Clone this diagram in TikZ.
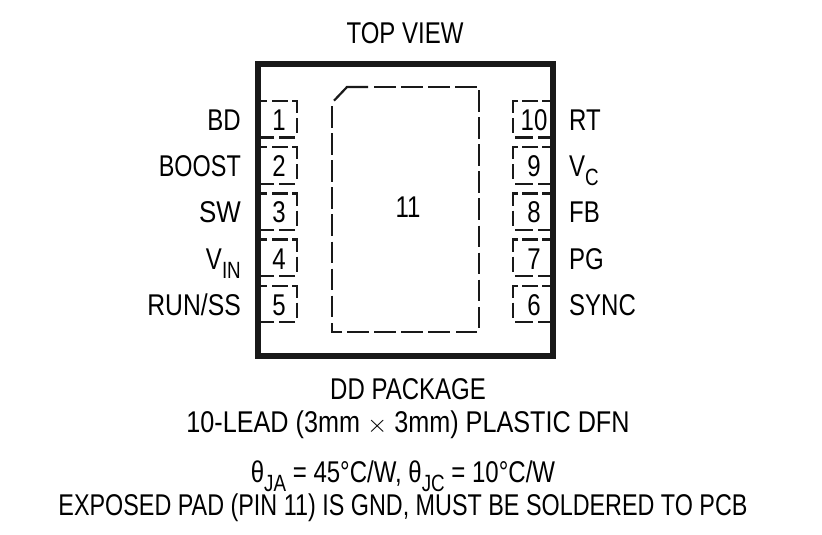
\documentclass[tikz,border=0pt]{standalone}
\usepackage{fontspec}
\setmainfont[FakeStretch=0.80]{Liberation Sans}
\newcommand{\lowsub}[1]{\smash{\raisebox{-0.3em}{\fontsize{23.5}{23.5}\selectfont #1}}}
\tikzset{
  txt/.style={inner sep=0pt,font=\fontsize{30}{30}\selectfont,text=black},
  lab/.style={txt,anchor=base east},
  rab/.style={txt,anchor=base west},
  num/.style={txt,anchor=base},
  case/.style={draw=black!90,line width=6.2pt,miter limit=10},
  padline/.style={draw=black!90,line width=2.2pt},
  dashline/.style={padline,dash pattern=on 21.5pt off 5.6pt},
}
\begin{document}
\begin{tikzpicture}[x=1pt,y=-1pt]
\useasboundingbox (0,0) rectangle (822,535);
\fill[white] (0,0) rectangle (822,535);
\draw[case] (257.6,63.8) rectangle (553.3,356.2);
% exposed pad
\draw[padline] (334,100.7) -- (347,87) -- (368,87);
\draw[dashline] (374,87) -- (478,87);
\draw[dashline] (479,90) -- (479,329);
\draw[dashline] (477,332.3) -- (347,332.3);
\draw[dashline] (332,106) -- (332,318);
\draw[padline] (342,332.3) -- (332,332.3) -- (332,323);
% pin outlines
\foreach \t in {101,147.2,193.5,239.5,285.7}{
  \draw[padline] (260,\t)--(267,\t) (272,\t)--(288,\t) (292,\t)--(297,\t)--(297,\t+12)
    (297,\t+17)--(297,\t+32) (295,\t+36.5)--(279,\t+36.5) (274,\t+36.5)--(260,\t+36.5);
  \draw[padline] (550,\t)--(542,\t) (538,\t)--(522,\t) (518,\t)--(513,\t)--(513,\t+12)
    (513,\t+17)--(513,\t+32) (515,\t+36.5)--(533,\t+36.5) (538,\t+36.5)--(550,\t+36.5);
}
\node[txt,anchor=base] (top) at (405,43.5) {TOP VIEW};
\node[num] (n1) at (279,130.5) {1};
\node[num] (n2) at (279,176.5) {2};
\node[num] (n3) at (279,222.5) {3};
\node[num] (n4) at (279,269) {4};
\node[num] (n5) at (279,315) {5};
\node[num] (n10) at (534,130.5) {10};
\node[num] (n9) at (534,176.5) {9};
\node[num] (n8) at (534,222.5) {8};
\node[num] (n7) at (534,269) {7};
\node[num] (n6) at (534,315) {6};
\node[num] (n11) at (408,217.5) {11};
\node[lab] (bd) at (241,130.5) {BD};
\node[lab] (boost) at (241,176.5) {\scalebox{0.975}[1]{BOOST}};
\node[lab] (sw) at (241,222.5) {\scalebox{1.08}[1]{SW}};
\node[lab] (vin) at (241,269) {V\lowsub{IN}};
\node[lab] (run) at (241,315) {\scalebox{1.03}[1]{RUN/SS}};
\node[rab] (rt) at (569,130.5) {RT};
\node[rab] (vc) at (569,176.5) {V\lowsub{C}};
\node[rab] (fb) at (569,222.5) {FB};
\node[rab] (pg) at (569,269) {PG};
\node[rab] (sync) at (569,315) {SYNC};
\node[txt,anchor=base] (dd) at (408,399) {DD PACKAGE};
\node[txt,anchor=base] (lead) at (408,432) {\scalebox{1.05}[1]{10-LEAD (3mm $\times$ 3mm) PLASTIC DFN}};
\node[txt,anchor=base] (theta) at (403,482) {θ\lowsub{JA} = 45°C/W, θ\lowsub{JC} = 10°C/W};
\node[txt,anchor=base] (pad) at (403,515) {\scalebox{0.973}[1]{EXPOSED PAD (PIN 11) IS GND, MUST BE SOLDERED TO PCB}};
\end{tikzpicture}
\end{document}
